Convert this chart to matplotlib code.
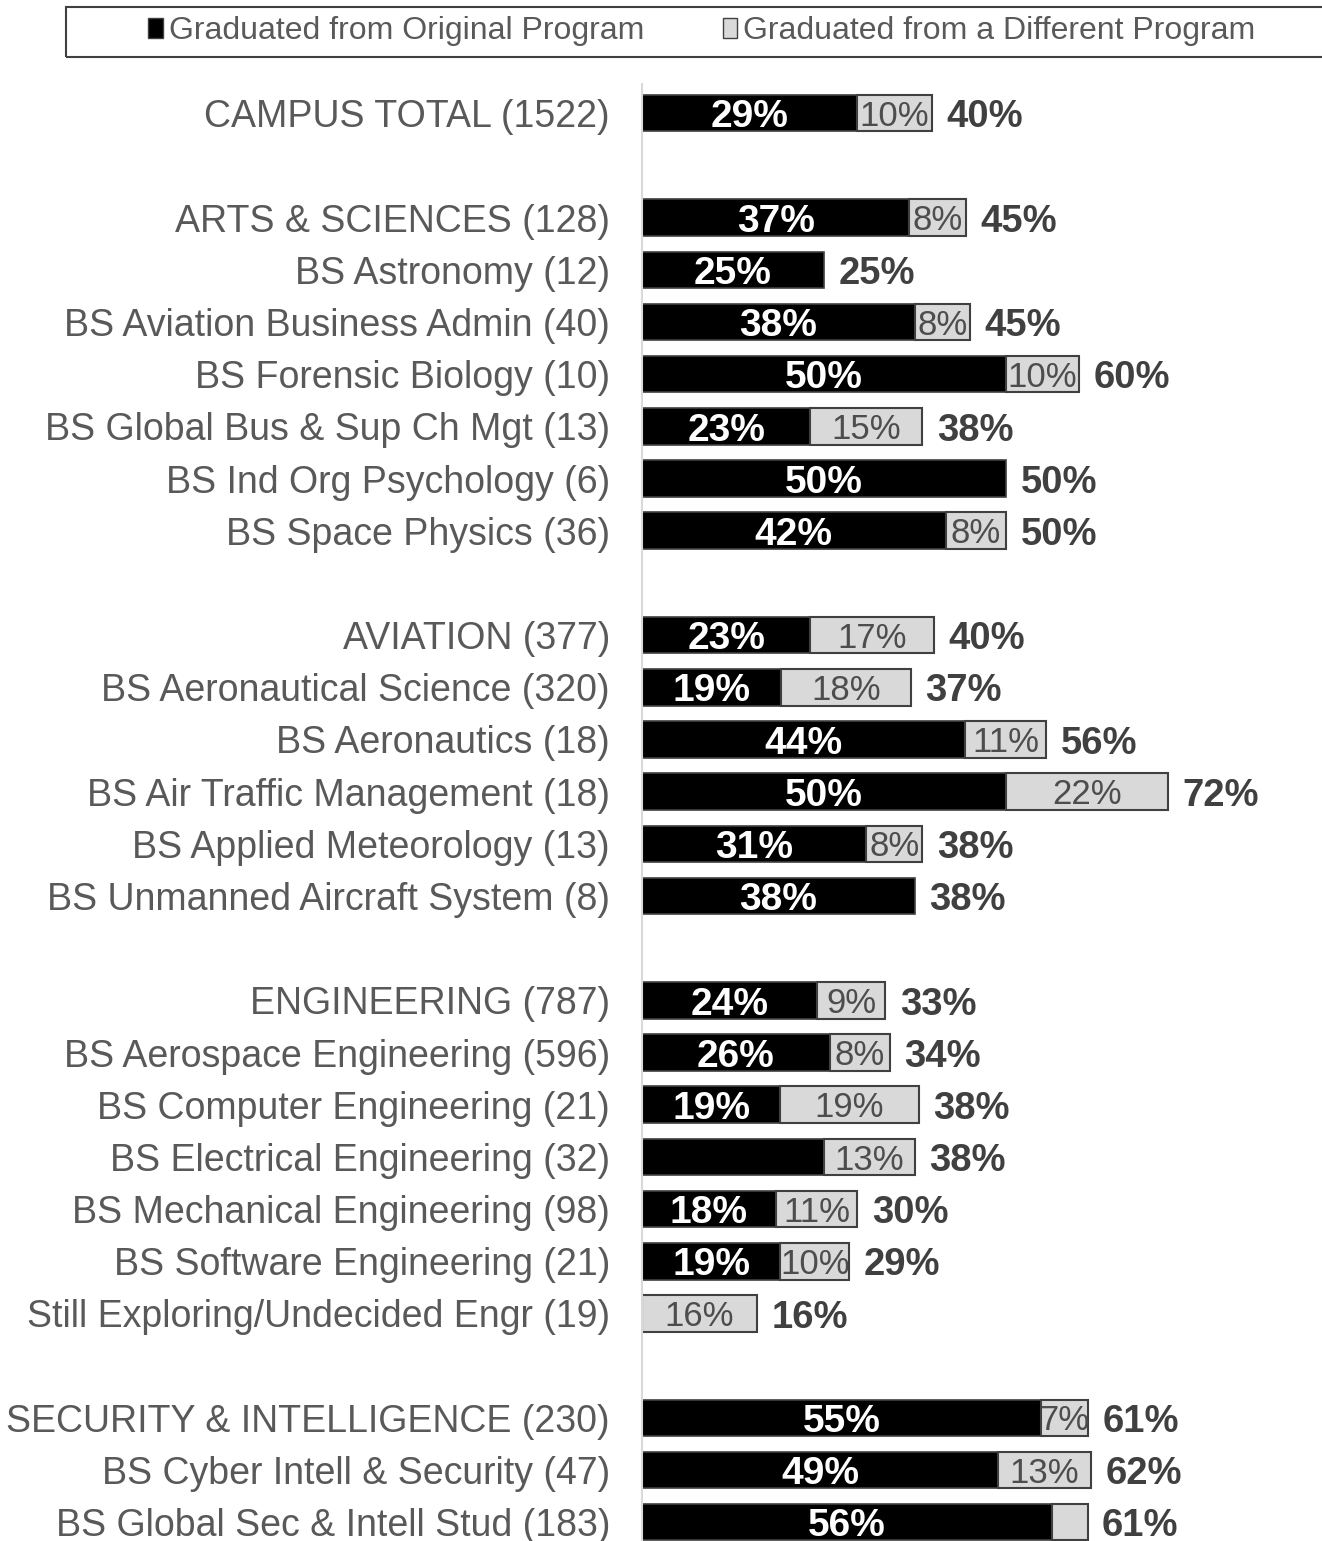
import matplotlib.pyplot as plt
from matplotlib.patches import Patch, Rectangle

plt.rcParams['font.family'] = ['Liberation Sans', 'DejaVu Sans']

# row labels (None = blank spacer row)
labels = [
    'CAMPUS TOTAL (1522)', None,
    'ARTS & SCIENCES (128)', 'BS Astronomy (12)', 'BS Aviation Business Admin (40)',
    'BS Forensic Biology (10)', 'BS Global Bus & Sup Ch Mgt (13)', 'BS Ind Org Psychology (6)',
    'BS Space Physics (36)', None,
    'AVIATION (377)', 'BS Aeronautical Science (320)', 'BS Aeronautics (18)',
    'BS Air Traffic Management (18)', 'BS Applied Meteorology (13)', 'BS Unmanned Aircraft System (8)', None,
    'ENGINEERING (787)', 'BS Aerospace Engineering (596)', 'BS Computer Engineering (21)',
    'BS Electrical Engineering (32)', 'BS Mechanical Engineering (98)', 'BS Software Engineering (21)',
    'Still Exploring/Undecided Engr (19)', None,
    'SECURITY & INTELLIGENCE (230)', 'BS Cyber Intell & Security (47)', 'BS Global Sec & Intell Stud (183)',
]
# % graduated from original program
orig = [29.5, None,
        36.7, 25, 37.5, 50, 23.1, 50, 41.7, None,
        23.1, 19.1, 44.4, 50, 30.8, 37.5, None,
        24.1, 25.8, 19.0, 25, 18.4, 19.0, 0, None,
        54.8, 48.9, 56.3]
# % graduated from a different program
diff = [10.3, None,
        7.8, 0, 7.5, 10, 15.4, 0, 8.3, None,
        17.0, 17.8, 11.1, 22.2, 7.7, 0, None,
        9.3, 8.2, 19.0, 12.5, 11.2, 9.5, 15.8, None,
        6.5, 12.8, 4.9]
orig_lbl = ['29%', None, '37%', '25%', '38%', '50%', '23%', '50%', '42%', None,
            '23%', '19%', '44%', '50%', '31%', '38%', None,
            '24%', '26%', '19%', '', '18%', '19%', '', None,
            '55%', '49%', '56%']
diff_lbl = ['10%', None, '8%', '', '8%', '10%', '15%', '', '8%', None,
            '17%', '18%', '11%', '22%', '8%', '', None,
            '9%', '8%', '19%', '13%', '11%', '10%', '16%', None,
            '7%', '13%', '']
total_lbl = ['40%', None, '45%', '25%', '45%', '60%', '38%', '50%', '50%', None,
             '40%', '37%', '56%', '72%', '38%', '38%', None,
             '33%', '34%', '38%', '38%', '30%', '29%', '16%', None,
             '61%', '62%', '61%']

GRAY_TXT = '#595959'
LIGHT = '#d9d9d9'

fig = plt.figure(figsize=(13.22, 15.41), dpi=100)
ax = fig.add_axes([642 / 1322, 0, 1 - 642 / 1322, (1541 - 84) / 1541])

rows = [i for i, l in enumerate(labels) if l is not None]
for i in rows:
    o, d = orig[i], diff[i]
    if o > 0:
        ax.barh(i, o, height=0.7, color='black', edgecolor='#404040', linewidth=1.2)
        if orig_lbl[i]:
            ax.text(o / 2, i + 0.08, orig_lbl[i], ha='center', va='center',
                    color='white', fontsize=28, fontweight='bold')
    if d > 0:
        ax.barh(i, d, left=o, height=0.7, color=LIGHT, edgecolor='#404040', linewidth=1.5)
        if diff_lbl[i]:
            ax.text(o + d / 2, i + 0.06, diff_lbl[i], ha='center', va='center',
                    color='#4d4d4d', fontsize=25)
    ax.text(o + d + 2.0, i + 0.08, total_lbl[i], ha='left', va='center',
            color='#404040', fontsize=27.5, fontweight='bold')

ax.set_yticks(rows)
ax.set_yticklabels([labels[i] for i in rows], fontsize=27, color=GRAY_TXT)
ax.tick_params(axis='y', length=0, pad=23)
ax.set_xticks([])
ax.set_xlim(0, (1322 - 642) / 7.28)
ax.set_ylim(27.36, -0.56)
for s in ['top', 'right', 'bottom']:
    ax.spines[s].set_visible(False)
ax.spines['left'].set_color(LIGHT)
ax.spines['left'].set_linewidth(1.5)

# legend box, cut off on the right like the source
fig.patches.append(Rectangle((66 / 1322, 1 - 57 / 1541), (1400 - 66) / 1322, 50 / 1541,
                             transform=fig.transFigure, fill=False,
                             edgecolor='#404040', linewidth=1.5))
handles = [Patch(facecolor='black', edgecolor='#404040'),
           Patch(facecolor=LIGHT, edgecolor='#404040')]
fig.legend(handles, ['Graduated from Original Program', 'Graduated from a Different Program'],
           loc='center', bbox_to_anchor=(702 / 1322, 1 - 31 / 1541), ncol=2,
           frameon=False, fontsize=23, labelcolor=GRAY_TXT,
           handlelength=0.45, handleheight=0.6, handletextpad=0.2, columnspacing=2.45)

fig.savefig('out.png', dpi=100)
